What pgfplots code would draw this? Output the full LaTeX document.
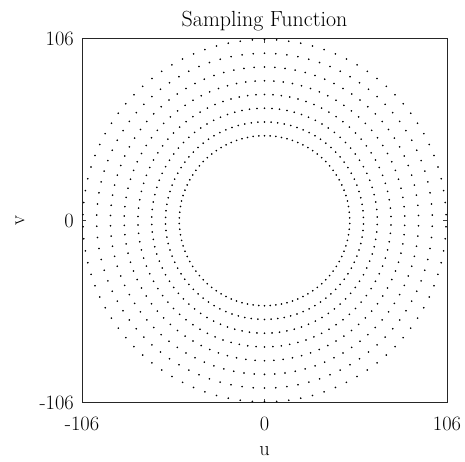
\documentclass[border=0pt]{standalone}
\usepackage{fontspec}
\usepackage{pgfplots}
\pgfplotsset{compat=1.18}
\usepackage{pgfplotstable}
% angle (deg) and the radius of each of the eight rings
\pgfplotstableread{
a r1 r2 r3 r4 r5 r6 r7 r8
90.000 49.5 57.5 65.5 73.5 81.5 89.5 97.5 105.5
93.830 49.5 57.5 65.5 73.5 81.5 89.5 97.5 105.5
97.660 49.5 57.5 65.5 73.5 81.5 89.5 97.5 105.5
101.489 49.5 57.5 65.5 73.5 81.5 89.5 97.5 105.5
105.319 49.5 57.5 65.5 73.5 81.5 89.5 97.5 105.5
109.149 49.5 57.5 65.5 73.5 81.5 89.5 97.5 105.5
112.979 49.5 57.5 65.5 73.5 81.5 89.5 97.5 105.5
116.809 49.5 57.5 65.5 73.5 81.5 89.5 97.5 105.5
120.638 49.5 57.5 65.5 73.5 81.5 89.5 97.5 105.5
124.468 49.5 57.5 65.5 73.5 81.5 89.5 97.5 105.5
128.298 49.5 57.5 65.5 73.5 81.5 89.5 97.5 105.5
132.128 49.5 57.5 65.5 73.5 81.5 89.5 97.5 105.5
135.957 49.5 57.5 65.5 73.5 81.5 89.5 97.5 105.5
139.787 49.5 57.5 65.5 73.5 81.5 89.5 97.5 105.5
143.617 49.5 57.5 65.5 73.5 81.5 89.5 97.5 105.5
147.447 49.5 57.5 65.5 73.5 81.5 89.5 97.5 105.5
151.277 49.5 57.5 65.5 73.5 81.5 89.5 97.5 105.5
155.106 49.5 57.5 65.5 73.5 81.5 89.5 97.5 105.5
158.936 49.5 57.5 65.5 73.5 81.5 89.5 97.5 105.5
162.766 49.5 57.5 65.5 73.5 81.5 89.5 97.5 105.5
166.596 49.5 57.5 65.5 73.5 81.5 89.5 97.5 105.5
170.426 49.5 57.5 65.5 73.5 81.5 89.5 97.5 105.5
174.255 49.5 57.5 65.5 73.5 81.5 89.5 97.5 105.5
178.085 49.5 57.5 65.5 73.5 81.5 89.5 97.5 105.5
181.915 49.5 57.5 65.5 73.5 81.5 89.5 97.5 105.5
185.745 49.5 57.5 65.5 73.5 81.5 89.5 97.5 105.5
189.574 49.5 57.5 65.5 73.5 81.5 89.5 97.5 105.5
193.404 49.5 57.5 65.5 73.5 81.5 89.5 97.5 105.5
197.234 49.5 57.5 65.5 73.5 81.5 89.5 97.5 105.5
201.064 49.5 57.5 65.5 73.5 81.5 89.5 97.5 105.5
204.894 49.5 57.5 65.5 73.5 81.5 89.5 97.5 105.5
208.723 49.5 57.5 65.5 73.5 81.5 89.5 97.5 105.5
212.553 49.5 57.5 65.5 73.5 81.5 89.5 97.5 105.5
216.383 49.5 57.5 65.5 73.5 81.5 89.5 97.5 105.5
220.213 49.5 57.5 65.5 73.5 81.5 89.5 97.5 105.5
224.043 49.5 57.5 65.5 73.5 81.5 89.5 97.5 105.5
227.872 49.5 57.5 65.5 73.5 81.5 89.5 97.5 105.5
231.702 49.5 57.5 65.5 73.5 81.5 89.5 97.5 105.5
235.532 49.5 57.5 65.5 73.5 81.5 89.5 97.5 105.5
239.362 49.5 57.5 65.5 73.5 81.5 89.5 97.5 105.5
243.191 49.5 57.5 65.5 73.5 81.5 89.5 97.5 105.5
247.021 49.5 57.5 65.5 73.5 81.5 89.5 97.5 105.5
250.851 49.5 57.5 65.5 73.5 81.5 89.5 97.5 105.5
254.681 49.5 57.5 65.5 73.5 81.5 89.5 97.5 105.5
258.511 49.5 57.5 65.5 73.5 81.5 89.5 97.5 105.5
262.340 49.5 57.5 65.5 73.5 81.5 89.5 97.5 105.5
266.170 49.5 57.5 65.5 73.5 81.5 89.5 97.5 105.5
270.000 49.5 57.5 65.5 73.5 81.5 89.5 97.5 105.5
273.830 49.5 57.5 65.5 73.5 81.5 89.5 97.5 105.5
277.660 49.5 57.5 65.5 73.5 81.5 89.5 97.5 105.5
281.489 49.5 57.5 65.5 73.5 81.5 89.5 97.5 105.5
285.319 49.5 57.5 65.5 73.5 81.5 89.5 97.5 105.5
289.149 49.5 57.5 65.5 73.5 81.5 89.5 97.5 105.5
292.979 49.5 57.5 65.5 73.5 81.5 89.5 97.5 105.5
296.809 49.5 57.5 65.5 73.5 81.5 89.5 97.5 105.5
300.638 49.5 57.5 65.5 73.5 81.5 89.5 97.5 105.5
304.468 49.5 57.5 65.5 73.5 81.5 89.5 97.5 105.5
308.298 49.5 57.5 65.5 73.5 81.5 89.5 97.5 105.5
312.128 49.5 57.5 65.5 73.5 81.5 89.5 97.5 105.5
315.957 49.5 57.5 65.5 73.5 81.5 89.5 97.5 105.5
319.787 49.5 57.5 65.5 73.5 81.5 89.5 97.5 105.5
323.617 49.5 57.5 65.5 73.5 81.5 89.5 97.5 105.5
327.447 49.5 57.5 65.5 73.5 81.5 89.5 97.5 105.5
331.277 49.5 57.5 65.5 73.5 81.5 89.5 97.5 105.5
335.106 49.5 57.5 65.5 73.5 81.5 89.5 97.5 105.5
338.936 49.5 57.5 65.5 73.5 81.5 89.5 97.5 105.5
342.766 49.5 57.5 65.5 73.5 81.5 89.5 97.5 105.5
346.596 49.5 57.5 65.5 73.5 81.5 89.5 97.5 105.5
350.426 49.5 57.5 65.5 73.5 81.5 89.5 97.5 105.5
354.255 49.5 57.5 65.5 73.5 81.5 89.5 97.5 105.5
358.085 49.5 57.5 65.5 73.5 81.5 89.5 97.5 105.5
361.915 49.5 57.5 65.5 73.5 81.5 89.5 97.5 105.5
365.745 49.5 57.5 65.5 73.5 81.5 89.5 97.5 105.5
369.574 49.5 57.5 65.5 73.5 81.5 89.5 97.5 105.5
373.404 49.5 57.5 65.5 73.5 81.5 89.5 97.5 105.5
377.234 49.5 57.5 65.5 73.5 81.5 89.5 97.5 105.5
381.064 49.5 57.5 65.5 73.5 81.5 89.5 97.5 105.5
384.894 49.5 57.5 65.5 73.5 81.5 89.5 97.5 105.5
388.723 49.5 57.5 65.5 73.5 81.5 89.5 97.5 105.5
392.553 49.5 57.5 65.5 73.5 81.5 89.5 97.5 105.5
396.383 49.5 57.5 65.5 73.5 81.5 89.5 97.5 105.5
400.213 49.5 57.5 65.5 73.5 81.5 89.5 97.5 105.5
404.043 49.5 57.5 65.5 73.5 81.5 89.5 97.5 105.5
407.872 49.5 57.5 65.5 73.5 81.5 89.5 97.5 105.5
411.702 49.5 57.5 65.5 73.5 81.5 89.5 97.5 105.5
415.532 49.5 57.5 65.5 73.5 81.5 89.5 97.5 105.5
419.362 49.5 57.5 65.5 73.5 81.5 89.5 97.5 105.5
423.191 49.5 57.5 65.5 73.5 81.5 89.5 97.5 105.5
427.021 49.5 57.5 65.5 73.5 81.5 89.5 97.5 105.5
430.851 49.5 57.5 65.5 73.5 81.5 89.5 97.5 105.5
434.681 49.5 57.5 65.5 73.5 81.5 89.5 97.5 105.5
438.511 49.5 57.5 65.5 73.5 81.5 89.5 97.5 105.5
442.340 49.5 57.5 65.5 73.5 81.5 89.5 97.5 105.5
446.170 49.5 57.5 65.5 73.5 81.5 89.5 97.5 105.5
}\samplingtable
\begin{document}
\begin{tikzpicture}
\begin{axis}[
  name=ax,
  scale only axis,
  width=365bp, height=364bp,
  xmin=-106, xmax=106, ymin=-106, ymax=106,
  xtick={-106,0,106}, ytick={-106,0,106},
  xticklabels={-106,0,106}, yticklabels={-106,0,106},
  tick align=inside,
  major tick length=4bp,
  tick style={black!75, line width=0.6bp},
  axis line style={black!85, line width=0.8bp},
  xticklabel style={font=\fontsize{20.5}{24}\selectfont, anchor=north, inner sep=0pt, yshift=-14bp},
  yticklabel style={font=\fontsize{20.5}{24}\selectfont, anchor=east, inner sep=0pt, xshift=-8bp},
  xlabel={u}, ylabel={v},
  every axis x label/.style={at={([yshift=-53bp]axis description cs:0.5,0)}, anchor=base, font=\fontsize{20.5}{24}\selectfont},
  every axis y label/.style={at={([xshift=-62bp]axis description cs:0,0.5)}, rotate=90, anchor=center, font=\fontsize{20.5}{24}\selectfont},
  title={Sampling Function},
  every axis title/.style={at={([yshift=12bp]axis description cs:0.5,1)}, anchor=base, font=\fontsize{22}{26}\selectfont},
  clip=false,
]
\pgfplotsinvokeforeach{r1,r2,r3,r4,r5,r6,r7,r8}{
  \addplot[only marks, data cs=polar, mark=*, mark size=0.6bp,
    mark options={draw=none, fill=black!90}] table[x=a, y=#1] {\samplingtable};
}
\end{axis}
\pgfresetboundingbox
\path ([xshift=-82bp, yshift=-59.3bp]ax.south west) rectangle ([xshift=18bp, yshift=38.7bp]ax.north east);
\end{tikzpicture}
\end{document}
